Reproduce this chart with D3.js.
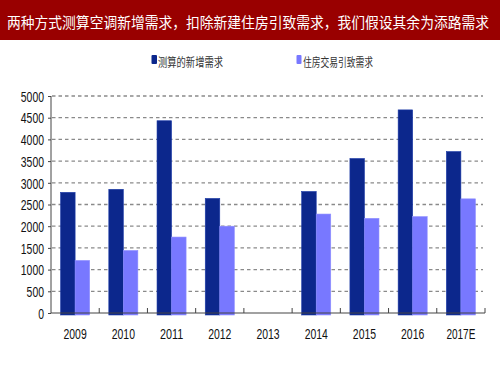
<!DOCTYPE html>
<html lang="zh">
<head>
<meta charset="UTF-8">
<title>空调新增需求</title>
<script src="https://d3js.org/d3.v7.min.js"></script>
<style>
  body { margin: 0; background: #fff; }
  svg { display: block; }
</style>
</head>
<body>
<svg id="chart" width="500" height="375"></svg>
<script>
const years = ["2009", "2010", "2011", "2012", "2013", "2014", "2015", "2016", "2017E"];
const seriesNames = ["测算的新增需求", "住房交易引致需求"];
const newDemand = [2780, 2850, 4430, 2640, null, 2800, 3560, 4680, 3720];
const housingDemand = [1210, 1440, 1750, 2000, null, 2280, 2180, 2220, 2630];
const yTicks = [0, 500, 1000, 1500, 2000, 2500, 3000, 3500, 4000, 4500, 5000];
const titleText = "两种方式测算空调新增需求，扣除新建住房引致需求，我们假设其余为添路需求";

const colors = ["#0c278c", "#7878ff"];
const cjk = "'Noto Sans CJK SC', 'Noto Sans', sans-serif";
const latin = "'Liberation Sans', Arial, sans-serif";

const svg = d3.select("#chart");

// title bar
svg.append("rect").attr("x", 0).attr("y", 0).attr("width", 500).attr("height", 40).attr("fill", "#990000");
svg.append("text")
  .attr("transform", "translate(7,28) scale(1,1.12)")
  .attr("fill", "#fff")
  .style("font-family", cjk)
  .style("font-size", "13.7px")
  .attr("textLength", 482)
  .attr("lengthAdjust", "spacingAndGlyphs")
  .text(titleText);

const x = d3.scaleBand().domain(years).range([51, 485]).padding(0);
const xs = d3.scaleBand().domain([0, 1]).range([0, x.bandwidth()]).paddingInner(0).paddingOuter(0.66);
const y = d3.scaleLinear().domain([0, 5000]).range([313, 96]);

// gridlines
svg.append("g").selectAll("line")
  .data(yTicks.filter(d => d > 0))
  .join("line")
  .attr("x1", 52).attr("x2", 483)
  .attr("y1", d => y(d)).attr("y2", d => y(d))
  .attr("stroke", "#8a8a8a")
  .attr("stroke-width", 1.3)
  .attr("stroke-dasharray", "3.5,3");

// bars
const series = [newDemand, housingDemand];
series.forEach((vals, si) => {
  svg.append("g").selectAll("rect")
    .data(years.map((yr, i) => ({ yr, v: vals[i] })).filter(d => d.v != null))
    .join("rect")
    .attr("x", d => x(d.yr) + xs(si))
    .attr("width", xs.bandwidth())
    .attr("y", d => y(d.v))
    .attr("height", d => y(0) - y(d.v) + 2)
    .attr("fill", colors[si])
    .attr("stroke", si === 0 ? "#1b3aa8" : "#8c8cff")
    .attr("stroke-width", 0.6);
});

// y axis
const yAxis = svg.append("g")
  .attr("transform", "translate(51,0)")
  .call(d3.axisLeft(y).tickValues(yTicks).tickSize(3).tickPadding(4).tickFormat(d3.format("d")));
yAxis.select(".domain").attr("stroke", "#444").attr("d", `M0,${y(5000)}V${y(0)}`);
yAxis.selectAll(".tick line").attr("stroke", "#444");
yAxis.selectAll("text")
  .style("font-family", latin)
  .style("font-size", "14.5px")
  .attr("fill", "#111")
  .attr("dy", "0.36em")
  .attr("textLength", d => String(d).length * 5.8)
  .attr("lengthAdjust", "spacingAndGlyphs");

// x axis
const xAxis = svg.append("g")
  .attr("transform", `translate(0,${y(0)})`)
  .call(d3.axisBottom(x).tickSize(0).tickPadding(16));
xAxis.select(".domain").attr("stroke", "#444").attr("stroke-width", 1.2).attr("d", "M51,0H485");
xAxis.selectAll("text")
  .style("font-family", latin)
  .style("font-size", "14px")
  .attr("fill", "#111")
  .attr("textLength", d => d.length * 5.8)
  .attr("lengthAdjust", "spacingAndGlyphs");
// category boundary ticks pointing up
svg.append("g").selectAll("line")
  .data(years.slice(1).concat(["end"]))
  .join("line")
  .attr("x1", d => d === "end" ? 485 : x(d)).attr("x2", d => d === "end" ? 485 : x(d))
  .attr("y1", y(0) - 5).attr("y2", y(0))
  .attr("stroke", "#444");

// legend
const legendX = [151.5, 296.5];
seriesNames.forEach((name, i) => {
  svg.append("rect")
    .attr("x", legendX[i]).attr("y", 55)
    .attr("width", i === 0 ? 5.5 : 5).attr("height", 9)
    .attr("rx", 1)
    .attr("fill", colors[i]);
  svg.append("text")
    .attr("x", legendX[i] + 6.5).attr("y", 67)
    .style("font-family", cjk)
    .style("font-size", "12px")
    .attr("fill", "#333")
    .attr("textLength", i === 0 ? 65 : 70)
    .attr("lengthAdjust", "spacingAndGlyphs")
    .text(name);
});
</script>
</body>
</html>
